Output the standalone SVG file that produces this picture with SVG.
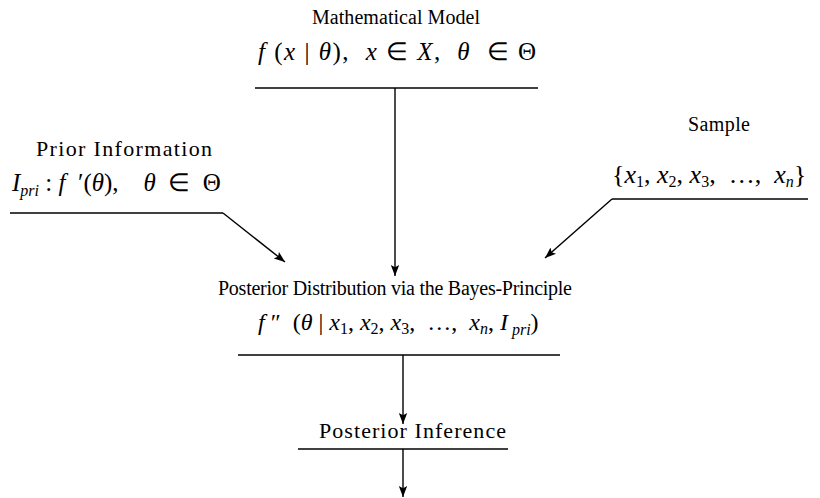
<svg xmlns="http://www.w3.org/2000/svg" width="820" height="498" viewBox="0 0 820 498">
<defs>
<marker id="ah" viewBox="0 0 10 10" refX="10" refY="5" markerWidth="11" markerHeight="11" markerUnits="userSpaceOnUse" orient="auto">
<path d="M0,1.2 L10,5 L0,8.8 L2,5 z" fill="#000"/>
</marker>
<style>
.t{font-family:"Liberation Serif","Times New Roman",serif;font-size:20px;fill:#000}
.m{font-family:"Liberation Serif","Times New Roman",serif;font-size:25px;fill:#000;font-style:italic;white-space:pre}
.u{font-style:normal}
.s{font-size:16px}
.ln{stroke:#000;stroke-width:1.6;fill:none}
.ar{stroke:#000;stroke-width:1.4;fill:none;marker-end:url(#ah)}
</style>
</defs>
<rect width="820" height="498" fill="#fff"/>
<g id="model">
<text class="t" x="312" y="24" textLength="168" lengthAdjust="spacing">Mathematical Model</text>
<text class="m" x="258" y="60" textLength="278" lengthAdjust="spacing">f <tspan class="u">(</tspan>x <tspan class="u">|</tspan> θ<tspan class="u">),</tspan>  x <tspan class="u">∈</tspan> X<tspan class="u">,</tspan>  θ  <tspan class="u">∈ Θ</tspan></text>
<line class="ln" x1="255" y1="88" x2="538" y2="88"/>
</g>
<g id="prior">
<text class="t" x="36" y="156" textLength="176" lengthAdjust="spacing" style="font-size:22px">Prior Information</text>
<text class="m" x="12" y="191">I<tspan class="s" dy="5">pri</tspan><tspan class="u" dy="-5"> : </tspan>f <tspan class="u"> ′(</tspan>θ<tspan class="u">),</tspan>    θ  <tspan class="u">∈  Θ</tspan></text>
<line class="ln" x1="10" y1="213" x2="223" y2="213"/>
</g>
<g id="sample">
<text class="t" x="688" y="131" textLength="62" lengthAdjust="spacing">Sample</text>
<text class="m" x="612" y="183" style="font-size:26px"><tspan class="u">{</tspan>x<tspan class="s u" dy="4">1</tspan><tspan class="u" dy="-4">, </tspan>x<tspan class="s u" dy="4">2</tspan><tspan class="u" dy="-4">, </tspan>x<tspan class="s u" dy="4">3</tspan><tspan class="u" dy="-4">,  …,  </tspan>x<tspan class="s" dy="4">n</tspan><tspan class="u" dy="-4">}</tspan></text>
<line class="ln" x1="612" y1="199" x2="808" y2="199"/>
</g>
<g id="posterior">
<text class="t" x="218" y="295" textLength="354" lengthAdjust="spacing">Posterior Distribution via the Bayes-Principle</text>
<text class="m" x="258" y="330" style="font-size:24px">f <tspan class="u">″  (</tspan>θ <tspan class="u">|</tspan> x<tspan class="s u" dy="4">1</tspan><tspan class="u" dy="-4">, </tspan>x<tspan class="s u" dy="4">2</tspan><tspan class="u" dy="-4">, </tspan>x<tspan class="s u" dy="4">3</tspan><tspan class="u" dy="-4">,  …,  </tspan>x<tspan class="s" dy="4">n</tspan><tspan class="u" dy="-4">, </tspan>I<tspan class="s" dy="5"> pri</tspan><tspan class="u" dy="-5">)</tspan></text>
<line class="ln" x1="238" y1="355" x2="560" y2="355"/>
</g>
<g id="inference">
<text class="t" x="319" y="438" textLength="187" lengthAdjust="spacing" style="font-size:22px">Posterior Inference</text>
<line class="ln" x1="298" y1="449" x2="508" y2="449"/>
</g>
<g id="connectors">
<line class="ar" x1="395" y1="88" x2="395" y2="276"/>
<polyline class="ar" points="223,213 285,262"/>
<polyline class="ar" points="612,199 545,258"/>
<line class="ar" x1="403" y1="355" x2="403" y2="424"/>
<line class="ar" x1="403" y1="449" x2="403" y2="497"/>
</g>
</svg>
